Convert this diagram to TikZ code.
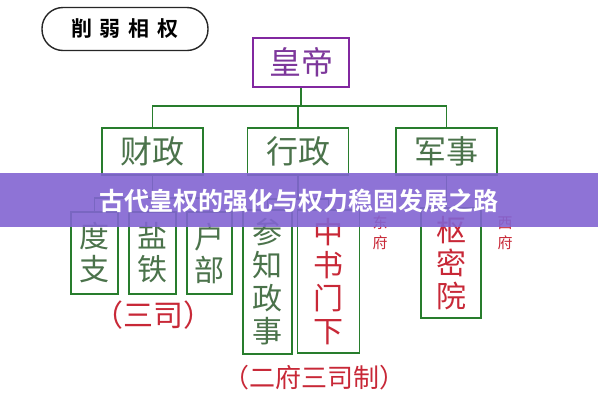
\documentclass[tikz,border=0pt]{standalone}
\usepackage{fontspec}
\setmainfont{Noto Sans CJK SC}[BoldFont={Noto Sans CJK SC Bold}]
\definecolor{lgreen}{RGB}{40,125,45}
\definecolor{tgreen}{RGB}{75,115,75}
\definecolor{tred}{RGB}{200,40,55}
\definecolor{tpurple}{RGB}{125,55,155}
\definecolor{bpurple}{RGB}{130,40,160}
\definecolor{banner}{RGB}{130,100,210}
\begin{document}
\begin{tikzpicture}[x=1pt,y=-1pt,
  box/.style={draw=lgreen,line width=1.8pt,inner sep=0pt,minimum height=47pt,minimum width=101pt,text=tgreen,font=\fontsize{32}{32}\selectfont},
  vbox/.style={draw=lgreen,line width=1.8pt,inner sep=0pt,align=center,text=tgreen,font=\fontsize{30}{33}\selectfont},
  note/.style={text=tred,align=center,font=\fontsize{15}{20}\selectfont},
  link/.style={draw=lgreen,line width=1.8pt}]
\useasboundingbox (0,0) rectangle (598,400);
\fill[white] (0,0) rectangle (598,400);

\node[draw=black!85,line width=1.4pt,rounded corners=21pt,minimum width=166pt,minimum height=43pt,font=\fontsize{21}{21}\selectfont\bfseries] (title) at (125,29) {削\hspace{8pt}弱\hspace{8pt}相\hspace{8pt}权};

\node[draw=bpurple,line width=1.8pt,inner sep=0pt,minimum width=96pt,minimum height=49pt,text=tpurple,font=\fontsize{32}{32}\selectfont] (huang) at (301,62.5) {皇帝};

\node[box] (cai) at (152.5,151.5) {财政};
\node[box] (xing) at (298,151.5) {行政};
\node[box] (jun) at (446.5,151.5) {军事};

\node[vbox,minimum width=47pt,minimum height=82pt] (duzhi) at (94.5,253) {度\\支};
\node[vbox,minimum width=47pt,minimum height=82pt] (yantie) at (152.5,253) {盐\\铁};
\node[vbox,minimum width=45pt,minimum height=82pt] (hubu) at (209.5,253) {户\\部};
\node[vbox,minimum width=49pt,minimum height=144pt] (canzhi) at (267.5,282) {参\\知\\政\\事};
\node[vbox,minimum width=62pt,minimum height=143pt,text=tred] (zhongshu) at (328.5,281.5) {中\\书\\门\\下};
\node[vbox,minimum width=60pt,minimum height=110pt,text=tred] (shumi) at (451,263) {枢\\密\\院};

\node[note] (dongfu) at (380,233) {东\\府};
\node[note] (xifu) at (505,233) {西\\府};

\node[text=tred,font=\fontsize{30}{30}\selectfont] (sansi) at (153,315) {（三司）};
\node[text=tred,font=\fontsize{26}{26}\selectfont] (erfu) at (314,378) {（二府三司制）};

\draw[link] (huang.south) -- ++(0,18) coordinate (hb);
\draw[link] (cai.north) |- (hb) -| (jun.north);
\draw[link] (xing.north) -- (xing.north |- hb);
\draw[link] (cai.south) -- ++(0,22) coordinate (cb);
\draw[link] (duzhi.north) |- (cb) -| (hubu.north);
\draw[link] (yantie.north) -- (yantie.north |- cb);
\draw[link] (xing.south) -- ++(0,23) coordinate (xb);
\draw[link] (canzhi.north) |- (xb) -| (zhongshu.north);
\draw[link] (jun.south) -- (jun.south |- shumi.north);

\fill[banner,opacity=0.9] (0,173) rectangle (598,227);
\node[text=white,font=\fontsize{25}{25}\selectfont\bfseries] (road) at (299,201) {古代皇权的强化与权力稳固发展之路};
\end{tikzpicture}
\end{document}
